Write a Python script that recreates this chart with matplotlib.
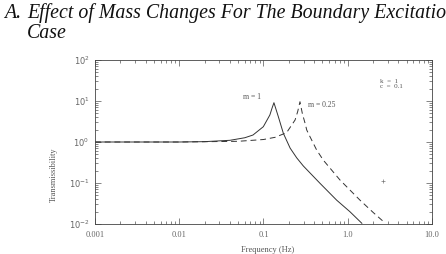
import matplotlib
matplotlib.use("Agg")
import matplotlib.pyplot as plt
import numpy as np

# Data
freq_m1 = [0.001, 0.01, 0.02, 0.04, 0.06, 0.075, 0.0995, 0.119, 0.126, 0.133, 0.140, 0.150, 0.172, 0.207, 0.248, 0.297, 0.469, 0.74, 1.06, 1.47]
resp_m1 = [1.0, 1.0, 1.02, 1.1, 1.27, 1.48, 2.36, 4.56, 6.6, 9.1, 6.5, 4.14, 1.63, 0.71, 0.41, 0.26, 0.098, 0.038, 0.020, 0.0104]

freq_m025 = [0.001, 0.01, 0.05, 0.1, 0.137, 0.188, 0.237, 0.255, 0.271, 0.29, 0.311, 0.326, 0.356, 0.39, 0.427, 0.513, 0.81, 1.40, 2.01, 2.77]
resp_m025 = [1.0, 1.0, 1.04, 1.15, 1.3, 1.69, 3.44, 5.6, 9.6, 4.8, 2.9, 1.96, 1.35, 0.93, 0.64, 0.36, 0.118, 0.038, 0.019, 0.0106]

stray_freq = [2.62]
stray_resp = [0.112]

x_ticks = [0.001, 0.01, 0.1, 1.0, 10.0]
x_tick_labels = ["0.001", "0.01", "0.1", "1.0", "10.0"]
y_ticks = [0.01, 0.1, 1.0, 10.0, 100.0]
y_tick_labels = [r"$10^{-2}$", r"$10^{-1}$", r"$10^{0}$", r"$10^{1}$", r"$10^{2}$"]

W, H = 446, 254
fig = plt.figure(figsize=(W / 100, H / 100), dpi=100)
fig.patch.set_facecolor("white")

serif = ["Liberation Serif", "DejaVu Serif"]

# Title
tfs = 14.3
fig.text(4 / W, 1 - 18 / H, "A.", fontsize=tfs, fontstyle="italic", family=serif, color="#111111")
fig.text(27 / W, 1 - 18 / H, "Effect of Mass Changes For The Boundary Excitation", fontsize=tfs,
         fontstyle="italic", family=serif, color="#111111")
fig.text(27 / W, 1 - 38 / H, "Case", fontsize=tfs, fontstyle="italic", family=serif, color="#111111")

left, right, top, bottom = 95, 432, 60, 224
ax = fig.add_axes([left / W, 1 - bottom / H, (right - left) / W, (bottom - top) / H])
ax.set_xscale("log")
ax.set_yscale("log")
ax.set_xlim(0.001, 10.0)
ax.set_ylim(0.01, 100.0)

lc = "#333333"
ax.plot(freq_m1, resp_m1, color=lc, lw=0.7, ls="-")
ax.plot(freq_m025, resp_m025, color=lc, lw=0.7, ls=(0, (6, 4)))
ax.plot(stray_freq, stray_resp, ls="none", marker="+", ms=2.5, mew=0.5, color="#777777")

ax.set_xticks(x_ticks)
ax.set_xticklabels(x_tick_labels)
ax.set_yticks(y_ticks)
ax.set_yticklabels(y_tick_labels)
ax.tick_params(which="both", direction="in", top=True, right=True, colors="#555555",
               labelsize=6, width=0.5)
ax.tick_params(axis="x", pad=5)
ax.tick_params(axis="y", pad=4)
ax.tick_params(which="major", length=4)
ax.tick_params(which="minor", length=2)
for lab in ax.get_xticklabels() + ax.get_yticklabels():
    lab.set_family(serif)
    lab.set_color("#666666")
for s in ax.spines.values():
    s.set_linewidth(0.6)
    s.set_color("#444444")

ax.set_xlabel("Frequency (Hz)", fontsize=6, family=serif, color="#555555")
ax.xaxis.set_label_coords(0.513, -0.135)
ax.set_ylabel("Transmissibility", fontsize=6, family=serif, color="#555555")
ax.yaxis.set_label_coords(-0.11, 0.30)

# Annotations
ax.text(0.057, 12.5, "m = 1", fontsize=5.5, family=serif, color="#555555", ha="left", va="center")
ax.text(0.335, 7.9, "m = 0.25", fontsize=5.5, family=serif, color="#555555", ha="left", va="center")
ax.text(2.42, 26, "k  =  1\nc  =  0.1", fontsize=5, family=serif, color="#555555", ha="left", va="center",
        linespacing=0.85)

fig.savefig("out.png", dpi=100, facecolor="white")
